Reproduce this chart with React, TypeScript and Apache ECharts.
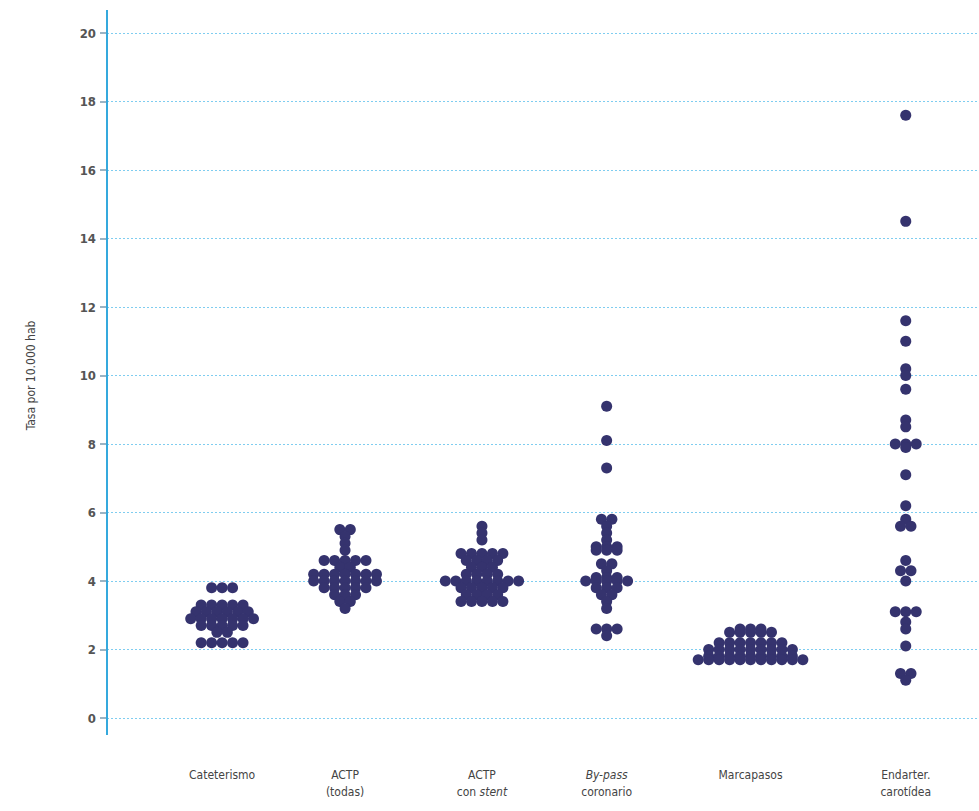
import React, { useEffect, useRef } from "react";
import * as echarts from "echarts";

const categoryLabels = [
  "Cateterismo",
  "ACTP\n(todas)",
  "ACTP\ncon {i|stent}",
  "{i|By-pass}\ncoronario",
  "Marcapasos",
  "Endarter.\ncarotídea",
];
// category centre positions along the hidden 0–100 x scale
const categoryPositions = [13.2, 27.3, 43.0, 57.3, 73.8, 91.6];

const cateterismo = [
  3.8, 3.8, 3.8,
  3.3, 3.3, 3.3, 3.3, 3.3,
  3.1, 3.1, 3.1, 3.1, 3.1, 3.1,
  2.9, 2.9, 2.9, 2.9, 2.9, 2.9, 2.9,
  2.7, 2.7, 2.7, 2.7, 2.7,
  2.5, 2.5,
  2.2, 2.2, 2.2, 2.2, 2.2,
];
const actpTodas = [
  5.5, 5.5, 5.3, 5.1, 4.9,
  4.6, 4.6, 4.6, 4.6, 4.6,
  4.4, 4.4,
  4.2, 4.2, 4.2, 4.2, 4.2, 4.2, 4.2,
  4.0, 4.0, 4.0, 4.0, 4.0, 4.0, 4.0,
  3.8, 3.8, 3.8, 3.8, 3.8,
  3.6, 3.6, 3.6,
  3.4, 3.4, 3.2,
];
const actpStent = [
  5.6, 5.4, 5.2,
  4.8, 4.8, 4.8, 4.8, 4.8,
  4.6, 4.6, 4.6, 4.6,
  4.4, 4.4, 4.4,
  4.2, 4.2, 4.2, 4.2,
  4.0, 4.0, 4.0, 4.0, 4.0, 4.0, 4.0, 4.0,
  3.8, 3.8, 3.8, 3.8, 3.8,
  3.6, 3.6, 3.6, 3.6,
  3.4, 3.4, 3.4, 3.4, 3.4,
];
const byPass = [
  9.1, 8.1, 7.3,
  5.8, 5.8, 5.6, 5.4, 5.2,
  5.0, 5.0, 5.0, 4.9, 4.9, 4.9,
  4.5, 4.5, 4.3,
  4.1, 4.1, 4.1,
  4.0, 4.0, 4.0, 4.0, 4.0,
  3.8, 3.8, 3.8, 3.6, 3.6, 3.4, 3.2,
  2.6, 2.6, 2.6, 2.4,
];
const marcapasos = [
  2.6, 2.6, 2.6,
  2.5, 2.5, 2.5, 2.5, 2.5,
  2.2, 2.2, 2.2, 2.2, 2.2, 2.2, 2.2,
  2.0, 2.0, 2.0, 2.0, 2.0, 2.0, 2.0, 2.0, 2.0,
  1.8, 1.8, 1.8, 1.8, 1.8, 1.8, 1.8, 1.8, 1.8,
  1.7, 1.7, 1.7, 1.7, 1.7, 1.7, 1.7, 1.7, 1.7, 1.7, 1.7,
];
const endarter = [
  17.6, 14.5, 11.6, 11.0, 10.2, 10.0, 9.6, 8.7, 8.5,
  8.0, 8.0, 8.0, 7.9, 7.1, 6.2, 5.8, 5.6, 5.6,
  4.6, 4.3, 4.3, 4.0, 3.1, 3.1, 3.1, 2.8, 2.6, 2.1,
  1.3, 1.3, 1.1,
];
const seriesValues = [cateterismo, actpTodas, actpStent, byPass, marcapasos, endarter];

const yTicks = { min: 0, max: 20, interval: 2 };
const DOT_STEP = 1.2; // horizontal spacing of stacked dots, in x units

function swarm(values: number[], centre: number): number[][] {
  const groups = new Map<number, number>();
  values.forEach((v) => groups.set(v, (groups.get(v) || 0) + 1));
  const pts: number[][] = [];
  groups.forEach((n, v) => {
    for (let i = 0; i < n; i++) {
      pts.push([centre + (i - (n - 1) / 2) * DOT_STEP, v]);
    }
  });
  return pts;
}

export default function App() {
  const ref = useRef<HTMLDivElement>(null);
  useEffect(() => {
    if (!ref.current) return;
    const chart = echarts.init(ref.current, null, { renderer: "svg" });
    const font = "'Liberation Sans Narrow', 'DejaVu Sans Condensed', Roboto, Arial, sans-serif";
    const data: number[][] = [];
    seriesValues.forEach((vals, ci) => data.push(...swarm(vals, categoryPositions[ci])));
    chart.setOption({
      animation: false,
      backgroundColor: "#ffffff",
      grid: { left: 107, right: 0, top: 33, bottom: 93 },
      xAxis: {
        type: "value",
        min: 0,
        max: 100,
        axisLine: { show: false },
        axisTick: { show: false },
        splitLine: { show: false },
        axisLabel: {
          customValues: categoryPositions,
          margin: 48,
          fontFamily: font,
          fontSize: 12,
          lineHeight: 17,
          color: "#444",
          verticalAlign: "top",
          formatter: (v: number) => {
            const i = categoryPositions.indexOf(v);
            return i >= 0 ? categoryLabels[i] : "";
          },
          rich: {
            i: { fontStyle: "italic", fontFamily: font, fontSize: 12, color: "#444", lineHeight: 17 },
          },
        },
      },
      yAxis: {
        type: "value",
        min: yTicks.min,
        max: yTicks.max,
        interval: yTicks.interval,
        name: "Tasa por 10.000 hab",
        nameLocation: "middle",
        nameGap: 70,
        nameTextStyle: { fontFamily: font, fontSize: 12, color: "#444" },
        axisLine: { show: true, lineStyle: { color: "#35a9dd", width: 2 } },
        axisTick: { show: true, length: 7, lineStyle: { color: "#7a9bb0", width: 1.5 } },
        axisLabel: { fontFamily: font, fontSize: 13, fontWeight: "bold", color: "#555", margin: 11 },
        splitLine: { show: true, lineStyle: { color: "#7fcdf0", type: [2, 2], width: 1 } },
      },
      graphic: [
        {
          type: "line",
          shape: { x1: 107, y1: 10, x2: 107, y2: 735 },
          style: { stroke: "#35a9dd", lineWidth: 2 },
          z: 1,
        },
      ],
      series: [
        {
          type: "scatter",
          data,
          symbol: "circle",
          symbolSize: 11,
          itemStyle: { color: "#35336e", opacity: 1 },
          z: 5,
        },
      ],
    });
    return () => chart.dispose();
  }, []);
  return (
    <div
      ref={ref}
      style={{ position: "fixed", left: 0, top: 0, width: 979, height: 811, background: "#fff" }}
    />
  );
}
